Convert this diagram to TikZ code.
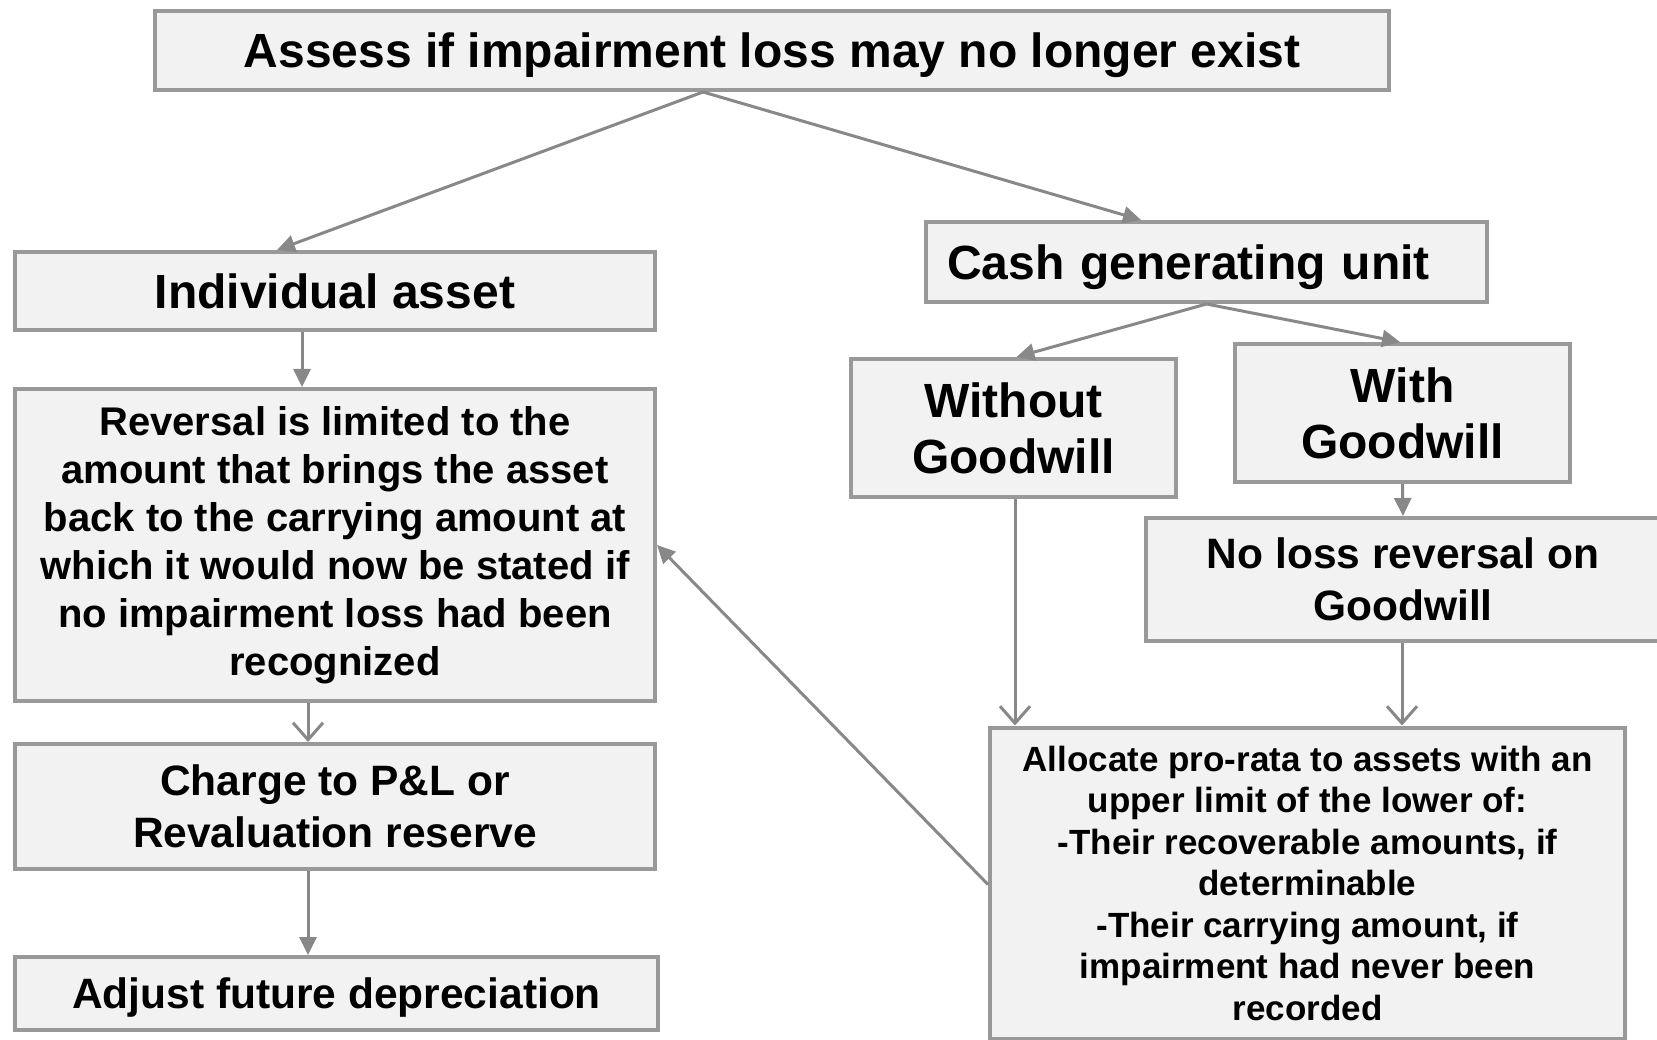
\documentclass[tikz,border=0pt]{standalone}
\usepackage{fontspec}
\setmainfont{Liberation Sans}
\usepackage{xcolor}
\usetikzlibrary{arrows.meta}
\definecolor{boxfill}{HTML}{F2F2F2}
\definecolor{boxline}{HTML}{999999}
\definecolor{arrline}{HTML}{888888}

\begin{document}
\begin{tikzpicture}[
      x=1pt, y=-1pt,
      box/.style={draw=boxline, line width=4pt, fill=boxfill, rectangle, align=center, inner sep=0pt, font=\bfseries},
      big/.style={font=\bfseries\fontsize{48}{56}\selectfont},
      mid/.style={font=\bfseries\fontsize{42.5}{52}\selectfont},
      fillarr/.style={draw=arrline, line width=3pt, -{Triangle[length=18pt, width=17pt]}},
      openarr/.style={draw=arrline, line width=3pt, -{Straight Barb[length=17pt, width=30pt, line width=3pt]}}
    ]
    \useasboundingbox (0,0) rectangle (1657,1040);

    \node[box, big, text depth=0pt, minimum width=1234pt, minimum height=79pt] (top) at (772,50.5) {Assess if impairment loss may no longer exist};

    % left branch
    \node[box, big, minimum width=640pt, minimum height=78pt] (ind) at (335,291) {Individual asset};
    \node[box, minimum width=640pt, minimum height=312pt, font=\bfseries\fontsize{40}{48}\selectfont] (rev) at (335,545)
      {Reversal is limited to the\\ amount that brings the asset\\ back to the carrying amount at\\ which it would now be stated if\\ no impairment loss had been\\ recognized};
    \node[box, mid, minimum width=640pt, minimum height=125pt] (chg) at (335,806.5) {Charge to P\&L or\\ Revaluation reserve};
    \node[box, mid, text depth=0pt, minimum width=643pt, minimum height=73pt] (adj) at (336.5,993.5) {Adjust future depreciation};

    % right branch
    \node[box, big, align=left, text depth=0pt, text width=519pt, inner xsep=21pt, minimum height=80pt] (cgu) at (1206.5,262) {Cash generating unit};
    \node[box, big, minimum width=325pt, minimum height=138pt] (wo) at (1013.5,428) {Without\\ Goodwill};
    \node[box, big, minimum width=335pt, minimum height=138pt] (wi) at (1402.5,413) {With\\ Goodwill};
    \node[box, mid, minimum width=514pt, minimum height=123pt] (nol) at (1403,579.5) {No loss reversal on\\ Goodwill};
    \node[box, minimum width=635pt, minimum height=311pt, font=\bfseries\fontsize{35}{41.5}\selectfont] (alc) at (1307.5,883)
      {Allocate pro-rata to assets with an\\ upper limit of the lower of:\\ -Their recoverable amounts, if\\ determinable\\ -Their carrying amount, if\\ impairment had never been\\ recorded};

    \draw[fillarr] ([xshift=-69pt]top.south) -- ([xshift=-58pt]ind.north);
    \draw[fillarr] ([xshift=-69pt]top.south) -- ([xshift=-65.5pt]cgu.north);
    \draw[fillarr] ([xshift=-33pt]ind.south) -- ([xshift=-33pt]rev.north);
    \draw[openarr] ([xshift=-27pt]rev.south) -- ([xshift=-27pt]chg.north);
    \draw[fillarr] ([xshift=-27pt]chg.south) -- ([xshift=-28.5pt]adj.north);

    \draw[fillarr] (cgu.south) -- ([xshift=3pt]wo.north);
    \draw[fillarr] (cgu.south) -- ([xshift=-2.5pt]wi.north);
    \draw[fillarr] (wi.south) -- (nol.north);
    \draw[openarr] ([xshift=1.5pt]wo.south) -- ([xshift=1.5pt]wo.south |- alc.north);
    \draw[openarr] ([xshift=-1pt]nol.south) -- ([xshift=-1pt]nol.south |- alc.north);
    \draw[fillarr] ([yshift=-1.5pt]alc.west) -- (rev.east);
  \end{tikzpicture}
\end{document}
